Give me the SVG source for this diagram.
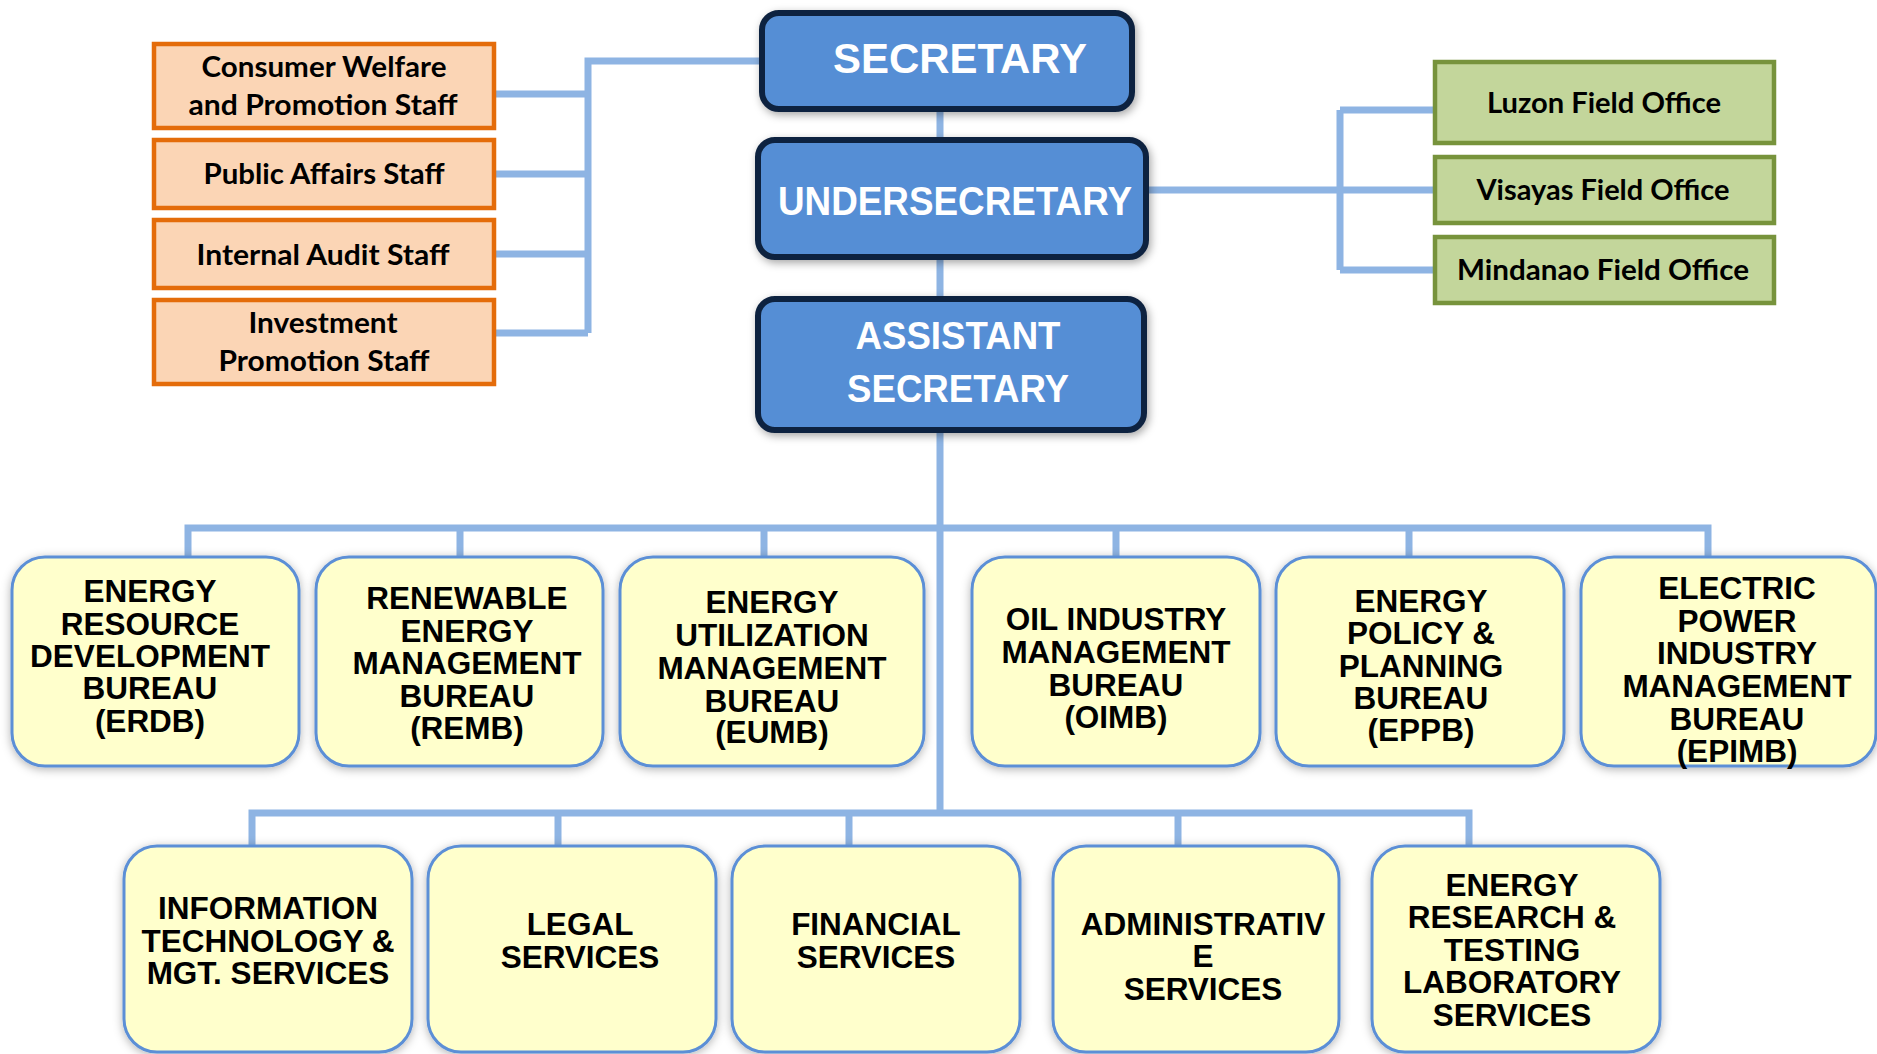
<svg xmlns="http://www.w3.org/2000/svg" width="1877" height="1054" viewBox="0 0 1877 1054">
<defs>
<filter id="sh" x="-10%" y="-10%" width="120%" height="125%">
<feDropShadow dx="2" dy="3" stdDeviation="4" flood-color="#000" flood-opacity="0.35"/>
</filter>
<filter id="sh2" x="-10%" y="-10%" width="120%" height="125%">
<feDropShadow dx="0" dy="2" stdDeviation="5" flood-color="#000" flood-opacity="0.3"/>
</filter>
<style>
.conn{fill:none;stroke:#8EB4E3;stroke-width:7;stroke-linejoin:miter}
.orange rect{fill:#FBD5B5;stroke:#E46C0A;stroke-width:4.5}
.green rect{fill:#C3D69B;stroke:#77933C;stroke-width:4.5}
.blue rect{fill:#558ED5;stroke:#10243F;stroke-width:6}
.yel rect{fill:#FFFFCC;stroke:#5B8FD6;stroke-width:3}
.st{font-family:Lato,"Open Sans","Noto Sans",sans-serif;font-weight:bold;font-size:29px;fill:#000;text-anchor:middle}
.bt{font-family:"Liberation Sans",Arial,sans-serif;font-weight:bold;fill:#fff;text-anchor:middle}
.yt{font-family:"Liberation Sans",Arial,sans-serif;font-weight:bold;font-size:31.5px;fill:#000;text-anchor:middle}
</style>
</defs>
<rect width="1877" height="1054" fill="#fff"/>
<g id="connectors" class="conn">
<path d="M764,61 H588 V333"/>
<path d="M494,94 H588 M494,174 H588 M494,254 H588 M494,333 H588"/>
<path d="M940,109 V140 M940,257 V298 M940,429 V813"/>
<path d="M1146,190 H1435 M1340,110 V270 M1340,110 H1435 M1340,270 H1435"/>
<path d="M188,557 V528 H1708 V557 M460,528 V557 M764,528 V557 M1116,528 V557 M1409,528 V557"/>
<path d="M252,846 V813 H1469 V846 M558,813 V846 M849,813 V846 M1178,813 V846"/>
</g>
<g id="cwps" class="orange"><rect x="154" y="44" width="340" height="84"/><text class="st"><tspan x="324" y="77" textLength="245" lengthAdjust="spacingAndGlyphs">Consumer Welfare</tspan><tspan x="323" y="115" textLength="269" lengthAdjust="spacingAndGlyphs">and Promotion Staff</tspan></text></g>
<g id="pas" class="orange"><rect x="154" y="140" width="340" height="68"/><text class="st" x="324" y="184" textLength="241" lengthAdjust="spacingAndGlyphs">Public Affairs Staff</text></g>
<g id="ias" class="orange"><rect x="154" y="220" width="340" height="68"/><text class="st" x="323" y="265" textLength="253" lengthAdjust="spacingAndGlyphs">Internal Audit Staff</text></g>
<g id="ips" class="orange"><rect x="154" y="300" width="340" height="84"/><text class="st"><tspan x="323" y="333" textLength="149" lengthAdjust="spacingAndGlyphs">Investment</tspan><tspan x="324" y="371" textLength="211" lengthAdjust="spacingAndGlyphs">Promotion Staff</tspan></text></g>
<g id="secretary" class="blue"><rect x="762" y="13" width="370" height="96" rx="17" filter="url(#sh)"/><text class="bt" x="960" y="73" font-size="43" textLength="254" lengthAdjust="spacingAndGlyphs">SECRETARY</text></g>
<g id="undersecretary" class="blue"><rect x="758" y="140" width="388" height="117" rx="17" filter="url(#sh)"/><text class="bt" x="955" y="215" font-size="40" textLength="354" lengthAdjust="spacingAndGlyphs">UNDERSECRETARY</text></g>
<g id="assistant" class="blue"><rect x="758" y="299" width="386" height="131" rx="17" filter="url(#sh)"/><text class="bt" font-size="39"><tspan x="958" y="349" textLength="205" lengthAdjust="spacingAndGlyphs">ASSISTANT</tspan><tspan x="958" y="402" textLength="222" lengthAdjust="spacingAndGlyphs">SECRETARY</tspan></text></g>
<g id="luzon" class="green"><rect x="1435" y="62" width="339" height="81"/><text class="st" x="1604" y="113" textLength="234" lengthAdjust="spacingAndGlyphs">Luzon Field Office</text></g>
<g id="visayas" class="green"><rect x="1435" y="157" width="339" height="66"/><text class="st" x="1603" y="200" textLength="253" lengthAdjust="spacingAndGlyphs">Visayas Field Office</text></g>
<g id="mindanao" class="green"><rect x="1435" y="237" width="339" height="66"/><text class="st" x="1603" y="280" textLength="292" lengthAdjust="spacingAndGlyphs">Mindanao Field Office</text></g>
<g id="erdb" class="yel"><rect x="12" y="557" width="287" height="209" rx="33" filter="url(#sh2)"/><text class="yt"><tspan x="150" y="602">ENERGY</tspan><tspan x="150" y="635">RESOURCE</tspan><tspan x="150" y="667">DEVELOPMENT</tspan><tspan x="150" y="699">BUREAU</tspan><tspan x="150" y="732">(ERDB)</tspan></text></g>
<g id="remb" class="yel"><rect x="316" y="557" width="287" height="209" rx="33" filter="url(#sh2)"/><text class="yt"><tspan x="467" y="609">RENEWABLE</tspan><tspan x="467" y="642">ENERGY</tspan><tspan x="467" y="674">MANAGEMENT</tspan><tspan x="467" y="707">BUREAU</tspan><tspan x="467" y="739">(REMB)</tspan></text></g>
<g id="eumb" class="yel"><rect x="620" y="557" width="304" height="209" rx="33" filter="url(#sh2)"/><text class="yt"><tspan x="772" y="613">ENERGY</tspan><tspan x="772" y="646">UTILIZATION</tspan><tspan x="772" y="679">MANAGEMENT</tspan><tspan x="772" y="712">BUREAU</tspan><tspan x="772" y="743">(EUMB)</tspan></text></g>
<g id="oimb" class="yel"><rect x="972" y="557" width="288" height="209" rx="33" filter="url(#sh2)"/><text class="yt"><tspan x="1116" y="630">OIL INDUSTRY</tspan><tspan x="1116" y="663">MANAGEMENT</tspan><tspan x="1116" y="696">BUREAU</tspan><tspan x="1116" y="728">(OIMB)</tspan></text></g>
<g id="eppb" class="yel"><rect x="1276" y="557" width="288" height="209" rx="33" filter="url(#sh2)"/><text class="yt"><tspan x="1421" y="612">ENERGY</tspan><tspan x="1421" y="644">POLICY &amp;</tspan><tspan x="1421" y="677">PLANNING</tspan><tspan x="1421" y="709">BUREAU</tspan><tspan x="1421" y="741">(EPPB)</tspan></text></g>
<g id="epimb" class="yel"><rect x="1581" y="557" width="295" height="209" rx="33" filter="url(#sh2)"/><text class="yt"><tspan x="1737" y="599">ELECTRIC</tspan><tspan x="1737" y="632">POWER</tspan><tspan x="1737" y="664">INDUSTRY</tspan><tspan x="1737" y="697">MANAGEMENT</tspan><tspan x="1737" y="730">BUREAU</tspan><tspan x="1737" y="762">(EPIMB)</tspan></text></g>
<g id="itms" class="yel"><rect x="124" y="846" width="288" height="206" rx="33" filter="url(#sh2)"/><text class="yt"><tspan x="268" y="919">INFORMATION</tspan><tspan x="268" y="952">TECHNOLOGY &amp;</tspan><tspan x="268" y="984">MGT. SERVICES</tspan></text></g>
<g id="legal" class="yel"><rect x="428" y="846" width="288" height="206" rx="33" filter="url(#sh2)"/><text class="yt"><tspan x="580" y="935">LEGAL</tspan><tspan x="580" y="968">SERVICES</tspan></text></g>
<g id="financial" class="yel"><rect x="732" y="846" width="288" height="206" rx="33" filter="url(#sh2)"/><text class="yt"><tspan x="876" y="935">FINANCIAL</tspan><tspan x="876" y="968">SERVICES</tspan></text></g>
<g id="admin" class="yel"><rect x="1053" y="846" width="286" height="206" rx="33" filter="url(#sh2)"/><text class="yt"><tspan x="1203" y="935">ADMINISTRATIV</tspan><tspan x="1203" y="967">E</tspan><tspan x="1203" y="1000">SERVICES</tspan></text></g>
<g id="ertls" class="yel"><rect x="1372" y="846" width="288" height="206" rx="33" filter="url(#sh2)"/><text class="yt"><tspan x="1512" y="896">ENERGY</tspan><tspan x="1512" y="928">RESEARCH &amp;</tspan><tspan x="1512" y="961">TESTING</tspan><tspan x="1512" y="993">LABORATORY</tspan><tspan x="1512" y="1026">SERVICES</tspan></text></g>
</svg>
